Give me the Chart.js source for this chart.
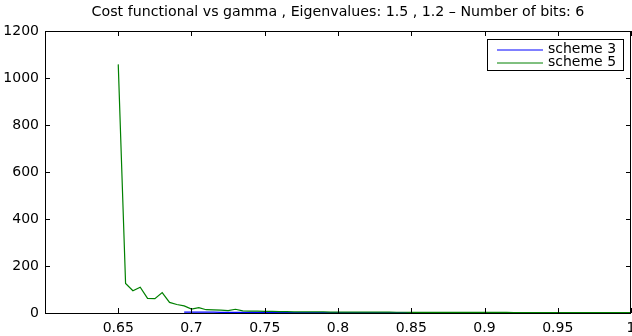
<!DOCTYPE html>
<html>
<head>
<meta charset="utf-8">
<script src="https://cdn.jsdelivr.net/npm/chart.js@4"></script>
<style>
  body { margin: 0; background: #fff; }
  #wrap { width: 632px; height: 336px; }
</style>
</head>
<body>
<div id="wrap"><canvas id="cost-chart" width="632" height="336"></canvas></div>
<script>
const titleText = "Cost functional vs gamma , Eigenvalues: 1.5 , 1.2 \u2013 Number of bits: 6";
const seriesNames = ["scheme 3", "scheme 5"];

// gamma grid (x)
const gamma = [
  0.65, 0.655, 0.66, 0.665, 0.67, 0.675, 0.68, 0.685, 0.69, 0.695,
  0.70, 0.705, 0.71, 0.715, 0.72, 0.725, 0.73, 0.735, 0.74, 0.745,
  0.75, 0.755, 0.76, 0.765, 0.77, 0.775, 0.78, 0.785, 0.79, 0.795,
  0.80, 0.805, 0.81, 0.815, 0.82, 0.825, 0.83, 0.835, 0.84, 0.845,
  0.85, 0.855, 0.86, 0.865, 0.87, 0.875, 0.88, 0.885, 0.89, 0.895,
  0.90, 0.905, 0.91, 0.915, 0.92, 0.925, 0.93, 0.935, 0.94, 0.945,
  0.95, 0.955, 0.96, 0.965, 0.97, 0.975, 0.98, 0.985, 0.99, 0.995,
  1.00
];

// scheme 3 (blue) - no value below gamma = 0.695
const scheme3 = [
  null, null, null, null, null, null, null, null, null, 4,
  4, 4, 3.5, 3.5, 3, 3, 3, 3, 2.5, 2.5,
  2.5, 2.5, 2, 2, 2, 2, 2, 2, 1.8, 1.8,
  1.8, 1.7, 1.7, 1.6, 1.6, 1.5, 1.5, 1.5, 1.4, 1.4,
  1.4, 1.3, 1.3, 1.3, 1.2, 1.2, 1.2, 1.2, 1.1, 1.1,
  1.1, 1.1, 1, 1, 1, 1, 1, 1, 1, 1,
  0.9, 0.9, 0.9, 0.9, 0.9, 0.9, 0.9, 0.9, 0.9, 0.9,
  0.9
];

// scheme 5 (green)
const scheme5 = [
  1058, 126, 95, 110, 62, 61, 87, 45, 36, 30,
  17, 23, 14, 13, 12, 10, 16, 9, 8, 8,
  7, 7, 6, 6, 5, 5, 5, 4.5, 4.5, 4,
  4, 4, 3.8, 3.8, 3.6, 3.5, 3.4, 3.3, 3.2, 3.1,
  3, 3, 2.9, 2.8, 2.8, 2.7, 2.6, 2.6, 2.5, 2.5,
  2.4, 2.4, 2.3, 2.3, 2.2, 2.2, 2.1, 2.1, 2, 2,
  2, 1.9, 1.9, 1.9, 1.8, 1.8, 1.8, 1.7, 1.7, 1.7,
  1.6
];

const xTicksMin = 0.6, xTicksMax = 1.0, xStep = 0.05;
const yTicksMin = 0, yTicksMax = 1200, yStep = 200;

const tickFont = { family: "DejaVu Sans", size: 14 };

// MATLAB-like box with inward ticks on all four sides
const boxAxes = {
  id: "boxAxes",
  afterDatasetsDraw(chart) {
    const { ctx, chartArea: a, scales } = chart;
    const len = 5;
    ctx.save();
    ctx.strokeStyle = "#000";
    ctx.lineWidth = 1;
    ctx.beginPath();
    scales.x.ticks.forEach(t => {
      const px = Math.round(scales.x.getPixelForValue(t.value)) + 0.5;
      ctx.moveTo(px, a.bottom); ctx.lineTo(px, a.bottom - len);
      ctx.moveTo(px, a.top); ctx.lineTo(px, a.top + len);
    });
    scales.y.ticks.forEach(t => {
      const py = Math.round(scales.y.getPixelForValue(t.value)) + 0.5;
      ctx.moveTo(a.left, py); ctx.lineTo(a.left + len, py);
      ctx.moveTo(a.right, py); ctx.lineTo(a.right - len, py);
    });
    ctx.stroke();
    ctx.strokeRect(Math.round(a.left) + 0.5, Math.round(a.top) + 0.5,
      Math.round(a.right - a.left) - 1, Math.round(a.bottom - a.top));
    ctx.restore();
  }
};

// boxed legend in the top right corner of the axes
const boxLegend = {
  id: "boxLegend",
  afterDraw(chart) {
    const { ctx, chartArea: a } = chart;
    const w = 136, h = 31;
    const x0 = Math.round(a.right) - 8 - w, y0 = Math.round(a.top) + 8;
    ctx.save();
    ctx.fillStyle = "#fff";
    ctx.fillRect(x0, y0, w, h);
    ctx.strokeStyle = "#000";
    ctx.lineWidth = 1;
    ctx.strokeRect(x0 + 0.5, y0 + 0.5, w, h);
    ctx.font = "14px 'DejaVu Sans'";
    ctx.textBaseline = "middle";
    chart.data.datasets.forEach((ds, i) => {
      const y = y0 + 11 + i * 13;
      ctx.strokeStyle = ds.borderColor;
      ctx.lineWidth = 1;
      ctx.beginPath();
      ctx.moveTo(x0 + 10, y); ctx.lineTo(x0 + 56, y);
      ctx.stroke();
      ctx.fillStyle = "#000";
      ctx.fillText(ds.label, x0 + 61, y - 0.5);
    });
    ctx.restore();
  }
};

new Chart(document.getElementById("cost-chart"), {
  type: "line",
  data: {
    datasets: [
      {
        label: seriesNames[0],
        data: gamma.map((g, i) => ({ x: g, y: scheme3[i] })),
        borderColor: "#0000ff",
        borderWidth: 1.2,
        order: 1
      },
      {
        label: seriesNames[1],
        data: gamma.map((g, i) => ({ x: g, y: scheme5[i] })),
        borderColor: "#008000",
        borderWidth: 1.2,
        order: 0
      }
    ]
  },
  options: {
    responsive: false,
    animation: false,
    devicePixelRatio: 1,
    layout: { padding: { left: 0, right: 1, top: 0, bottom: 0 } },
    elements: { point: { radius: 0 }, line: { tension: 0 } },
    plugins: {
      legend: { display: false },
      tooltip: { enabled: false },
      title: {
        display: true,
        fullSize: false,
        text: titleText,
        color: "#000",
        font: { family: "DejaVu Sans", size: 14.2, weight: "normal", lineHeight: 1.2 },
        padding: { top: 4, bottom: 9.96 }
      }
    },
    scales: {
      x: {
        type: "linear",
        min: xTicksMin,
        max: xTicksMax,
        grid: { display: false, drawTicks: false },
        border: { display: false },
        ticks: {
          stepSize: xStep,
          autoSkip: false,
          maxRotation: 0,
          padding: 7,
          color: "#000",
          font: tickFont,
          callback: v => Math.abs(v - xTicksMin) < 1e-9 ? "" : String(Math.round(v * 100) / 100)
        },
        afterFit(s) { s.height = 23; s.paddingLeft = 0; s.paddingRight = 0; }
      },
      y: {
        min: yTicksMin,
        max: yTicksMax,
        grid: { display: false, drawTicks: false },
        border: { display: false },
        ticks: {
          stepSize: yStep,
          padding: 6,
          color: "#000",
          font: tickFont,
          callback: v => String(v)
        },
        afterFit(s) { s.width = 45; s.paddingTop = 0; s.paddingBottom = 0; }
      }
    }
  },
  plugins: [boxAxes, boxLegend]
});
</script>
</body>
</html>
